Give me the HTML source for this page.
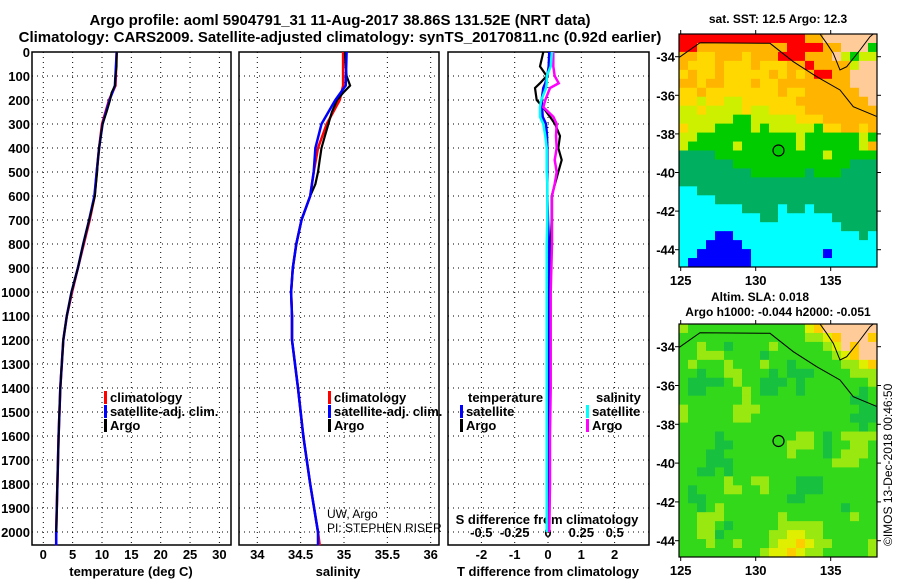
<!DOCTYPE html>
<html><head><meta charset="utf-8"><style>
body{margin:0;background:#fff;}
svg{display:block;font-family:"Liberation Sans",Arial,sans-serif;}
.b{font-weight:bold;}
</style></head><body>
<svg id="c" width="900" height="580" viewBox="0 0 900 580">
<text x="340" y="25" text-anchor="middle" class="b" font-size="15">Argo profile: aoml 5904791_31 11-Aug-2017 38.86S 131.52E (NRT data)</text>
<text x="340" y="42" text-anchor="middle" class="b" font-size="15">Climatology: CARS2009. Satellite-adjusted climatology: synTS_20170811.nc (0.92d earlier)</text>
<text x="778" y="23" text-anchor="middle" class="b" font-size="12">sat. SST: 12.5 Argo: 12.3</text>
<text x="760" y="301" text-anchor="middle" class="b" font-size="12">Altim. SLA: 0.018</text>
<text x="778" y="316" text-anchor="middle" class="b" font-size="12">Argo h1000: -0.044 h2000: -0.051</text>
<text transform="translate(892,546) rotate(-90)" font-size="12">©IMOS 13-Dec-2018 00:46:50</text>
<g id="g"></g>
</svg>
<script>
// ---- data ----
const depthTicks=[0,100,200,300,400,500,600,700,800,900,1000,1100,1200,1300,1400,1500,1600,1700,1800,1900,2000];
const tempTicks=[0,5,10,15,20,25,30];
const salTicks=[34,34.5,35,35.5,36];
const salTickLabels=["34","34.5","35","35.5","36"];
const tdTicks=[-2,-1,0,1,2];
const sdTicks=[-0.5,-0.25,0,0.25,0.5];
const sdTickLabels=["-0.5","-0.25","0","0.25","0.5"];

const climDepth=[0,140,200,300,400,500,600,700,800,900,1000,1100,1200,1400,1600,1800,2000,2055];
const climTemp=[12.5,12.3,11.2,10.0,9.5,9.1,8.75,7.9,6.9,5.9,4.9,4.0,3.4,2.9,2.6,2.4,2.2,2.2];
const satTemp=[12.5,12.2,11.3,10.1,9.5,9.1,8.7,7.8,6.8,5.9,4.8,4.0,3.4,2.9,2.6,2.4,2.2,2.2];
const argoDepth=[0,60,100,140,170,200,250,300,350,400,450,500,550,600,700,800,900,1000,1100,1200,1400,1600,1800,2000];
const argoTemp=[12.5,12.5,12.3,12.2,11.6,11.4,10.8,10.1,9.8,9.5,9.3,9.2,9.0,8.8,7.8,6.8,5.9,4.8,4.0,3.4,2.9,2.6,2.4,2.2];

const climSal=[34.99,34.99,34.95,34.80,34.70,34.65,34.61,34.51,34.45,34.41,34.39,34.40,34.40,34.47,34.53,34.61,34.70,34.72];
const satSal=[35.03,35.02,34.90,34.74,34.67,34.65,34.61,34.51,34.45,34.41,34.39,34.40,34.40,34.47,34.53,34.61,34.70,34.70];
const argoSal=[35.01,35.02,35.03,35.07,34.99,34.92,34.86,34.82,34.78,34.74,34.72,34.70,34.67,34.61,34.51,34.45,34.41,34.39,34.40,34.40,34.47,34.53,34.61,34.70];

const diffDepth=[0,60,100,130,150,200,230,270,300,350,400,450,500,550,600,700,800,1000,1200,1400,1600,1800,2000];
const argoTDiff=[-0.14,-0.24,-0.04,-0.24,-0.39,-0.34,-0.15,0.06,0.21,0.36,0.31,0.41,0.31,0.21,0.11,0.11,0.08,0.05,0.04,0.03,0.03,0.02,0.02];
const argoSDiff=[0.04,0.04,0.05,0.08,0.015,-0.02,-0.035,0.04,0.065,0.06,0.065,0.05,0.065,0.05,0.03,0.03,0.03,0.02,0.02,0.02,0.015,0.015,0.01];
const satTDiff=[0.04,0.02,-0.02,-0.08,-0.14,-0.19,-0.18,-0.16,-0.06,-0.03,-0.02,-0.02,-0.02,-0.02,-0.02,0.0,0.03,0.03,0.02,0.02,0.02,0.02,0.02];
const satSDiff=[0.03,0.02,-0.01,-0.01,-0.015,-0.05,-0.06,-0.06,-0.035,-0.02,-0.01,-0.01,-0.01,-0.005,-0.005,-0.005,-0.01,-0.01,-0.01,-0.01,-0.01,-0.01,-0.01];

const sstRows=[
"rrrrrrrrrrrrrrooLLLLLL","rroooooooooorrrrooLLLgl","ooyyoooyooorrroooLlgll","oyyyoyyyoyyyooroooolLL",
"yoyyoyyyyyoyoyorrooLLL","ooyooyyyoyyooooooooLLL","yyoyyyyyyyyoyyooooooLL","yylyyllyyyyyyooooooooL",
"llyllllyllyyyyoooooooo","llllllgglllllyyyoooooo","ylllgggglglllllgyyooyo","llggggggggggglgggggglgy",
"lggggglgggggglgggggglo","ttttgggggggggggglggggg","ttttttgggggggggggggttt","ttttttttggggggtgggtttt",
"tttttttttttttttttttttt","cctttttttttttttttttttt","cccctttttttttttttttttt","cccccccttttcttcttttttt",
"cccccccccttccccccttttt","cccccccccccccccccctttt","ccccbbcccccccccccccctc","cccbbbbccccccccccccccc",
"ccbbbbbbccccccccbccccc","cbbbbbbbcccccccccccccc"];
const slaRows=[
"lgggggggggggggyoLLLLLL","ggggggggggggggllyoLLLo","gglggdgggglggggglyLoLL","gglllggggdggggggglyoLL",
"glggglggglggdgggggllyo","ggdggllgggdgdddgggglll","gddddglggdddgdgggggggl","gddgggglgddggdggggggdg",
"ggggggglgggggggggggddg","lggggglllgggggggggggdd","lgggggllgggggggggggddd","ggggggggggggggggggggdg",
"ggggdggggggggllgdgllll","ggggddgggggglllgdggllg","gggddggggggglgggdglllg","gggdddggggggggggglllgg",
"ggddgdgggggggggggggggg","ggggglggllgggdddgggggg","gdgggllgglgggdddgggggg","gddgggggggggddgggggggg",
"ggdglgggggggggggggdggg","gglllgggggglggggggglgg","ggllgdggggglllllgggggg","gglldgggggllyyllgggggg",
"ggglgglggglyyoyllggggl","ggggggggglyyoyllgggggl"];
const mapLatTicks=[-34,-36,-38,-40,-42,-44];
const mapLonTicks=[125,130,135];
const argoLon=131.52, argoLat=-38.86;

// ---- drawing ----
const NS="http://www.w3.org/2000/svg";
const G=document.getElementById('g');
function mk(tag,attrs,parent){const e=document.createElementNS(NS,tag);for(const k in attrs)e.setAttribute(k,attrs[k]);(parent||G).appendChild(e);return e;}
const PT=52, PB=545;
const yD=d=>PT+d*0.24;
const P1={l:32,r:231}, P2={l:239,r:439}, P3={l:448,r:649};
const xT=t=>43.3+t*5.87;
const xS=s=>257.3+(s-34)*86.7;
const xTD=v=>548+v*33.3;
const xSD=v=>548+v*133.3;

function panel(P,name){
  const r=mk('rect',{x:P.l,y:PT,width:P.r-P.l,height:PB-PT,fill:'#fff',stroke:'#000','stroke-width':1.5});
  
  
  depthTicks.forEach(d=>{
    const l=mk('line',{x1:P.l,x2:P.r,y1:yD(d),y2:yD(d),stroke:'#000','stroke-dasharray':'1,4','stroke-width':1});
    
    
  });
}
function vgrid(x,name){
  const l=mk('line',{x1:x,x2:x,y1:PT,y2:PB,stroke:'#000','stroke-dasharray':'1,4','stroke-width':1});
  
  
}
function txt(x,y,s,opt,name){
  const t=mk('text',Object.assign({x:x,y:y,'font-size':13,'font-weight':'bold'},opt||{}));
  t.textContent=s;
  
  
  return t;
}
function series(xs,ds,fx,color,name,w){
  const pts=xs.map((v,i)=>fx(v).toFixed(1)+','+yD(ds[i]).toFixed(1)).join(' ');
  const p=mk('polyline',{points:pts,fill:'none',stroke:color,'stroke-width':w||2.5,'stroke-linejoin':'miter'});
  
  
}
function legend(x,y,color,label,name){
  const r=mk('rect',{x:x,y:y-11,width:3,height:13,fill:color});
  
  
  txt(x+6,y,label,{'font-size':13},name);
}

panel(P1,'temp-panel');panel(P2,'sal-panel');panel(P3,'diff-panel');
tempTicks.forEach(t=>{vgrid(xT(t),'temp-grid');txt(xT(t),559,String(t),{'text-anchor':'middle'},'temp-tick-label');});
salTicks.forEach((s,i)=>{vgrid(xS(s),'sal-grid');txt(xS(s),559,salTickLabels[i],{'text-anchor':'middle'},'sal-tick-label');});
tdTicks.forEach(v=>{vgrid(xTD(v),'tdiff-grid');txt(xTD(v),559,String(v),{'text-anchor':'middle'},'tdiff-tick-label');});
sdTicks.forEach((v,i)=>{txt(xSD(v),537,sdTickLabels[i],{'text-anchor':'middle'},'sdiff-tick-label');});
depthTicks.forEach(d=>txt(30,yD(d)+5,String(d),{'text-anchor':'end'},'depth-tick-label'));
txt(131,576,'temperature (deg C)',{'text-anchor':'middle'},'temp-axis-title');
txt(338,576,'salinity',{'text-anchor':'middle'},'sal-axis-title');
txt(548,576,'T difference from climatology',{'text-anchor':'middle'},'tdiff-axis-title');
txt(547,524,'S difference from climatology',{'text-anchor':'middle'},'sdiff-axis-title');

series(climTemp,climDepth,xT,'#f00','temp-climatology-line');
series(satTemp,climDepth,xT,'#00f','temp-satellite-line');
series(argoTemp,argoDepth,xT,'#000','temp-argo-line',1.8);
series(climSal,climDepth,xS,'#f00','sal-climatology-line');
series(argoSal,argoDepth,xS,'#000','sal-argo-line',2.2);
series(satSal,climDepth,xS,'#00f','sal-satellite-line');
series(argoTDiff,diffDepth,xTD,'#000','tdiff-argo-line',2.2);
series(satTDiff,diffDepth,xTD,'#00f','tdiff-satellite-line');
series(argoSDiff,diffDepth,xSD,'#f0f','sdiff-argo-line');
series(satSDiff,diffDepth,xSD,'#0ff','sdiff-satellite-line');

legend(104,402,'#f00','climatology','temp-legend-climatology');
legend(104,416,'#00f','satellite-adj. clim.','temp-legend-satellite');
legend(104,430,'#000','Argo','temp-legend-argo');
legend(328,402,'#f00','climatology','sal-legend-climatology');
legend(328,416,'#00f','satellite-adj. clim.','sal-legend-satellite');
legend(328,430,'#000','Argo','sal-legend-argo');
txt(468,402,'temperature',{},'diff-legend-temperature-heading');
txt(596,402,'salinity',{},'diff-legend-salinity-heading');
legend(460,416,'#00f','satellite','diff-legend-t-satellite');
legend(460,430,'#000','Argo','diff-legend-t-argo');
legend(586,416,'#0ff','satellite','diff-legend-s-satellite');
legend(586,430,'#f0f','Argo','diff-legend-s-argo');
txt(327,518,'UW, Argo',{'font-weight':'normal','font-size':12},'pi-institution');
txt(327,532,'PI: STEPHEN RISER',{'font-weight':'normal','font-size':12},'pi-name');

// maps
const sstCol={r:'#ff0000',o:'#ffb400',y:'#ffd800',l:'#ccf000',g:'#00cc00',t:'#00b060',c:'#00ffff',b:'#0000ff',L:'#ffcc99'};
const slaCol={g:'#33d81a',d:'#18c040',l:'#99e810',y:'#e0ee00',o:'#ffcc00',L:'#ffcc99'};
function map(M,rows,cols,name){
  const xL=lon=>M.l+(lon-125)*15+1.7, yL=lat=>M.y34+(-34-lat)*M.dy;
  const bg=mk('rect',{x:M.l,y:M.t,width:M.r-M.l,height:M.b-M.t,fill:cols[rows[rows.length-1][0]]});
  
  
  const nr=rows.length, cw=(M.r-M.l)/22, ch=(M.b-M.t)/nr;
  rows.forEach((row,i)=>{for(let j=0;j<row.length&&j<22;j++){
    const c=mk('rect',{x:(M.l+j*cw).toFixed(2),y:(M.t+i*ch).toFixed(2),width:(cw+0.4).toFixed(2),height:(ch+0.4).toFixed(2),fill:cols[row[j]]||'#0f0'});
    
    
  }});
  const coastZ=[[58,172],[120,128],[330,130],[400,185],[470,230],[540,270],[580,320],[652,350]];
  const coast=mk('polyline',{points:coastZ.map(p=>(660+p[0]/3).toFixed(1)+','+(M.t+(p[1]-102)/3*M.sc).toFixed(1)).join(' '),fill:'none',stroke:'#000','stroke-width':1});
  
  
  const landZ=[[480,102],[500,130],[520,160],[540,210],[560,200],[600,150],[630,110],[640,102]];
  const land=mk('polyline',{points:landZ.map(p=>(660+p[0]/3).toFixed(1)+','+(M.t+(p[1]-102)/3*M.sc).toFixed(1)).join(' '),fill:'none',stroke:'#000','stroke-width':1});
  
  
  const fr=mk('rect',{x:M.l,y:M.t,width:M.r-M.l,height:M.b-M.t,fill:'none',stroke:'#000','stroke-width':1.2});
  
  
  mapLatTicks.forEach(lat=>{
    const y=yL(lat);
    const t1=mk('line',{x1:M.l-4,x2:M.l,y1:y,y2:y,stroke:'#000'});
    
    
    const t2=mk('line',{x1:M.r,x2:M.r+4,y1:y,y2:y,stroke:'#000'});
    
    
    txt(M.l-4,y+5,String(lat),{'text-anchor':'end'},name+'-lat-label');
  });
  mapLonTicks.forEach(lon=>{
    const x=xL(lon);
    const t1=mk('line',{x1:x,x2:x,y1:M.t-4,y2:M.t,stroke:'#000'});
    
    
    const t2=mk('line',{x1:x,x2:x,y1:M.b,y2:M.b+4,stroke:'#000'});
    
    
    txt(x,M.b+18,String(lon),{'text-anchor':'middle'},name+'-lon-label');
  });
  const m=mk('circle',{cx:xL(argoLon),cy:yL(argoLat),r:5.5,fill:'none',stroke:'#000','stroke-width':1.2});
  
  
}
map({l:679,r:877,t:34,b:267,y34:56.7,dy:19.3,sc:1},sstRows,sstCol,'sst-map');
map({l:679,r:877,t:324,b:557,y34:346.7,dy:19.4,sc:1},slaRows,slaCol,'sla-map');
</script>
</body></html>
